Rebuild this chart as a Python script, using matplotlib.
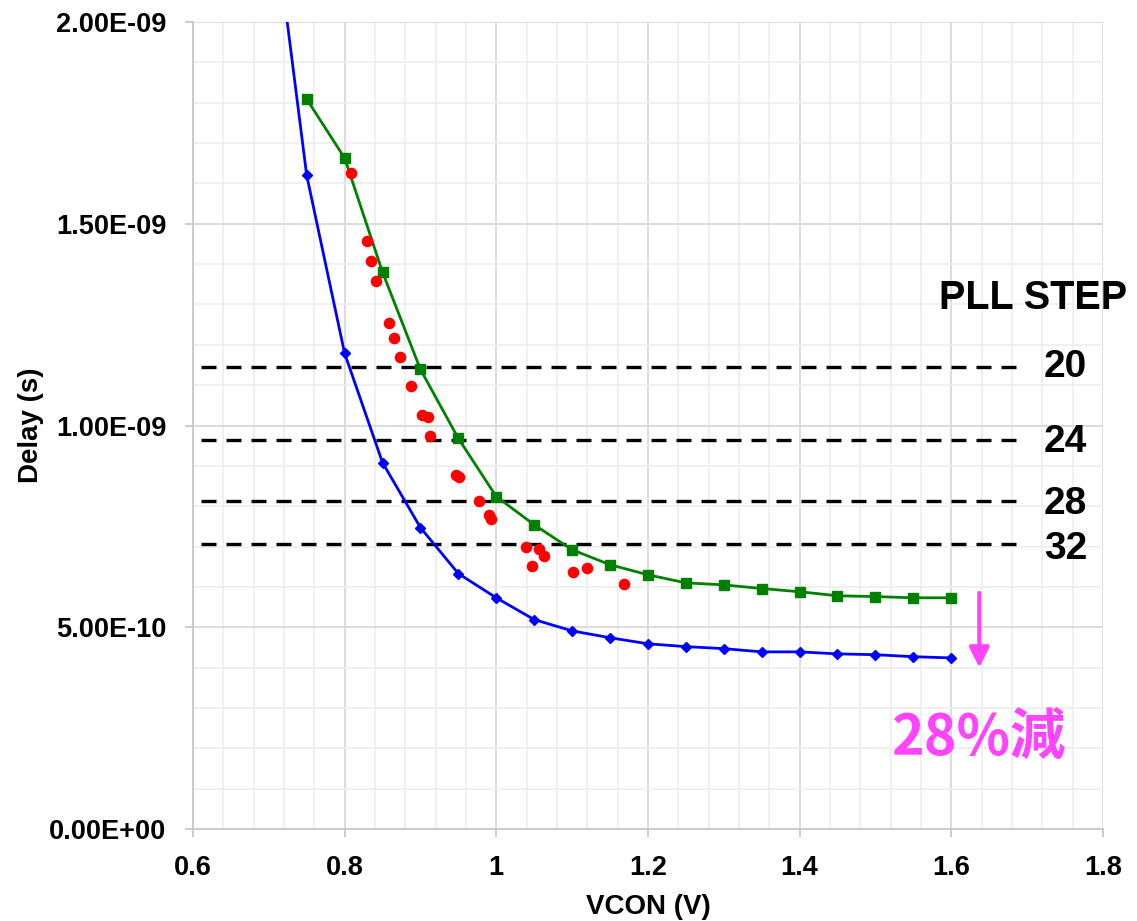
import numpy as np
import matplotlib.pyplot as plt
from matplotlib.ticker import MultipleLocator, FuncFormatter

plt.rcParams['font.family'] = ['Liberation Sans', 'DejaVu Sans']

# blue: fitted / new design
vcon_blue = [0.70, 0.75, 0.80, 0.85, 0.90, 0.95, 1.00, 1.05, 1.10, 1.15, 1.20,
             1.25, 1.30, 1.35, 1.40, 1.45, 1.50, 1.55, 1.60]
delay_blue = [2.36e-9, 1.620e-9, 1.179e-9, 0.908e-9, 0.747e-9, 0.633e-9, 0.573e-9,
              0.519e-9, 0.491e-9, 0.474e-9, 0.459e-9, 0.452e-9, 0.447e-9, 0.439e-9,
              0.439e-9, 0.434e-9, 0.432e-9, 0.427e-9, 0.424e-9]

# green: original design
vcon_green = [0.75, 0.80, 0.85, 0.90, 0.95, 1.00, 1.05, 1.10, 1.15, 1.20,
              1.25, 1.30, 1.35, 1.40, 1.45, 1.50, 1.55, 1.60]
delay_green = [1.809e-9, 1.663e-9, 1.380e-9, 1.139e-9, 0.968e-9, 0.824e-9, 0.754e-9,
               0.692e-9, 0.655e-9, 0.630e-9, 0.610e-9, 0.605e-9, 0.596e-9, 0.588e-9,
               0.578e-9, 0.576e-9, 0.573e-9, 0.573e-9]

# red: measured points
vcon_red = [0.809, 0.829, 0.835, 0.842, 0.858, 0.865, 0.873, 0.888, 0.902, 0.910,
            0.913, 0.947, 0.951, 0.977, 0.990, 0.993, 1.039, 1.047, 1.057, 1.063,
            1.101, 1.120, 1.169]
delay_red = [1.625e-9, 1.457e-9, 1.407e-9, 1.357e-9, 1.253e-9, 1.218e-9, 1.169e-9,
             1.097e-9, 1.027e-9, 1.020e-9, 0.973e-9, 0.878e-9, 0.873e-9, 0.814e-9,
             0.777e-9, 0.769e-9, 0.700e-9, 0.653e-9, 0.695e-9, 0.677e-9, 0.638e-9,
             0.648e-9, 0.608e-9]

# PLL step levels
step_labels = ["20", "24", "28", "32"]
step_delay = [1.146e-9, 0.965e-9, 0.814e-9, 0.707e-9]
step_label_y = [1.146e-9, 0.960e-9, 0.806e-9, 0.695e-9]

x_ticks = [0.6, 0.8, 1.0, 1.2, 1.4, 1.6, 1.8]
x_ticklabels = ["0.6", "0.8", "1", "1.2", "1.4", "1.6", "1.8"]
y_ticks = [0, 5e-10, 1e-9, 1.5e-9, 2e-9]
y_ticklabels = ["0.00E+00", "5.00E-10", "1.00E-09", "1.50E-09", "2.00E-09"]

fig = plt.figure(figsize=(11.37, 9.21), dpi=100)
ax = fig.add_axes([0.1697, 0.0999, 0.8003, 0.8762])

ax.set_xlim(0.6, 1.8)
ax.set_ylim(0, 2e-9)
ax.set_xticks(x_ticks)
ax.set_xticklabels(x_ticklabels, fontweight='bold')
ax.set_yticks(y_ticks)
ax.set_yticklabels(y_ticklabels, fontweight='bold')
ax.xaxis.set_minor_locator(MultipleLocator(0.04))
ax.yaxis.set_minor_locator(MultipleLocator(1e-10))
ax.grid(which='major', color='#d9d9d9', linewidth=1.3, zorder=0)
ax.grid(which='minor', color='#efefef', linewidth=1.3, zorder=0)
ax.set_axisbelow(True)

for side in ['top', 'right']:
    ax.spines[side].set_visible(False)
for side in ['left', 'bottom']:
    ax.spines[side].set_color('#c8c8c8')
    ax.spines[side].set_linewidth(1.3)

ax.tick_params(which='major', length=6, color='#c8c8c8', width=1.3,
               labelsize=19.5, pad=13)
ax.tick_params(which='minor', length=0)

ax.set_xlabel("VCON (V)", fontsize=20, fontweight='bold', labelpad=9)
ax.set_ylabel("Delay (s)", fontsize=20, fontweight='bold', labelpad=4)

ax.plot(vcon_blue, delay_blue, color='#0000ff', linewidth=2, marker='D',
        markersize=5.5, zorder=3)
ax.plot(vcon_green, delay_green, color='#008000', linewidth=2, marker='s',
        markersize=7.5, zorder=3)
ax.scatter(vcon_red, delay_red, color='#ff0000', s=70, zorder=4, linewidths=0)

for d in step_delay:
    ax.plot([0.61, 1.685], [d, d], color='black', linewidth=2.4,
            dashes=(4.5, 3), zorder=2)
for lab, ly in zip(step_labels, step_label_y):
    ax.text(1.751, ly, lab, fontsize=28, fontweight='bold', ha='center',
            va='center', clip_on=False)
ax.text(1.708, 1.315e-9, "PLL STEP", fontsize=28.5, fontweight='bold',
        ha='center', va='center', clip_on=False)

ax.annotate("", xy=(1.637, 0.40e-9), xytext=(1.637, 0.585e-9),
            arrowprops=dict(arrowstyle='-|>', color='#ff44ff', linewidth=3,
                            mutation_scale=30, shrinkA=0, shrinkB=0))
ax.text(1.635, 0.226e-9, "28%減", fontsize=40, fontweight='bold',
        color='#ff44ff', ha='center', va='center',
        family=['Noto Sans CJK JP', 'DejaVu Sans'])

fig.savefig("out.png", dpi=100)
